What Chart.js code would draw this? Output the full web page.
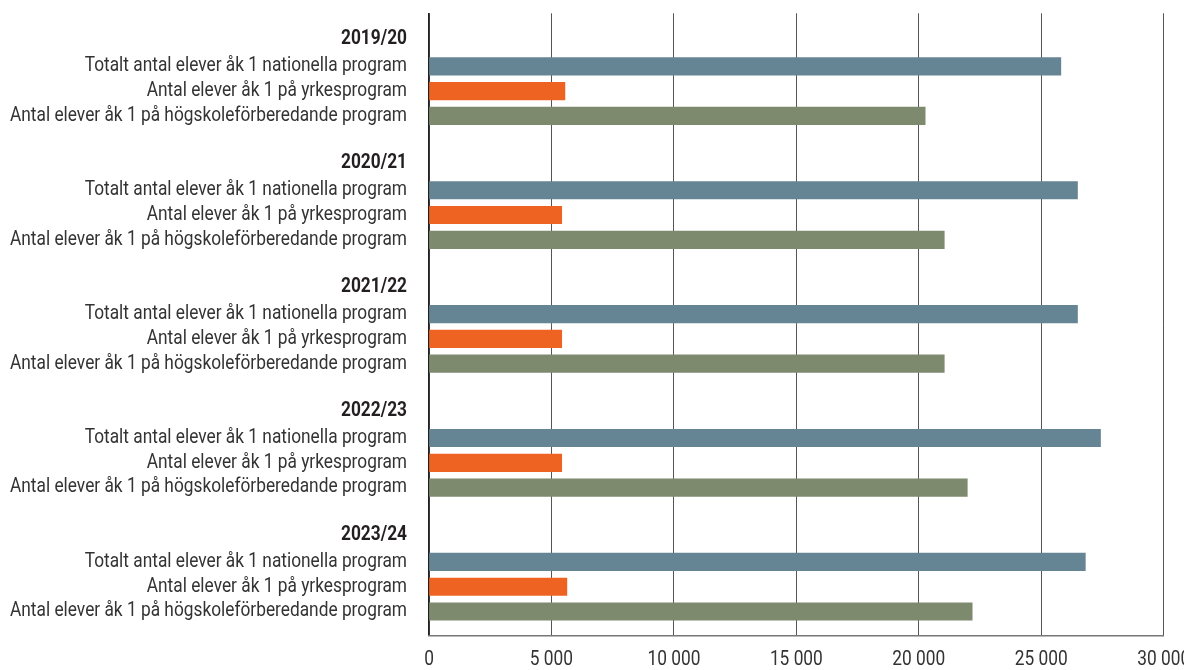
<!DOCTYPE html>
<html>
<head>
<meta charset="utf-8">
<script src="https://cdn.jsdelivr.net/npm/chart.js@4/dist/chart.umd.min.js"></script>
<style>
  html, body { margin: 0; padding: 0; background: #fff; overflow: hidden; }
  #wrap { position: relative; width: 1184px; height: 670px; }
</style>
</head>
<body>
<div id="wrap"><canvas id="c"></canvas></div>
<script>
// ---- data ----
const years = ["2019/20", "2020/21", "2021/22", "2022/23", "2023/24"];
const seriesNames = [
  "Totalt antal elever åk 1 nationella program",
  "Antal elever åk 1 på yrkesprogram",
  "Antal elever åk 1 på högskoleförberedande program"
];
const totalt = [25800, 26480, 26480, 27420, 26800];
const yrkes  = [5550, 5420, 5420, 5420, 5630];
const hogsk  = [20260, 21040, 21040, 21980, 22180];
const seriesColors = ["#658594", "#ee6322", "#7e8a6e"];
const xTicks = [0, 5000, 10000, 15000, 20000, 25000, 30000];

// ---- build rows (row index k: header, 3 bars, blank gap) ----
const rows = [];   // {k, label, header}
const points = []; // {x, y}
const colors = [];
years.forEach((yr, i) => {
  const base = i * 5 + 1;
  rows.push({ k: base, label: yr, header: true });
  [totalt, yrkes, hogsk].forEach((s, j) => {
    rows.push({ k: base + 1 + j, label: seriesNames[j], header: false });
    points.push({ x: s[i], y: base + 1 + j });
    colors.push(seriesColors[j]);
  });
});

const FONT = "Roboto, 'DejaVu Sans', sans-serif";
const FSIZE = 19.5;
const LONGEST_W = 397; // target pixel width of longest label
const fmt = v => String(v).replace(/\B(?=(\d{3})+(?!\d))/g, " ");

const condensedLabels = {
  id: "condensedLabels",
  afterDraw(chart) {
    const ctx = chart.ctx, ys = chart.scales.y, xs = chart.scales.x;
    ctx.save();
    ctx.font = `normal ${FSIZE}px ${FONT}`;
    let maxW = 0;
    rows.forEach(r => { if (!r.header) maxW = Math.max(maxW, ctx.measureText(r.label).width); });
    const sx = LONGEST_W / maxW;
    const right = chart.chartArea.left - 22;
    ctx.textAlign = "right";
    ctx.textBaseline = "middle";
    rows.forEach(r => {
      const y = ys.getPixelForValue(r.k) - (r.header ? 2.5 : 0);
      ctx.font = `${r.header ? "bold" : "normal"} ${FSIZE}px ${FONT}`;
      ctx.fillStyle = r.header ? "#231f20" : "#333333";
      ctx.save();
      ctx.translate(right, y);
      ctx.scale(sx, 1);
      ctx.fillText(r.label, 0, 0);
      ctx.restore();
    });
    ctx.textAlign = "center";
    ctx.font = `normal ${FSIZE}px ${FONT}`;
    ctx.fillStyle = "#333333";
    xTicks.forEach(v => {
      const x = xs.getPixelForValue(v);
      ctx.save();
      ctx.translate(x, 660);
      ctx.scale(sx, 1);
      ctx.fillText(fmt(v), 0, 0);
      ctx.restore();
    });
    ctx.restore();
  }
};

new Chart(document.getElementById("c"), {
  type: "bar",
  data: {
    datasets: [{
      data: points,
      backgroundColor: colors,
      borderWidth: 0,
      barThickness: 17.5
    }]
  },
  options: {
    indexAxis: "y",
    responsive: true,
    maintainAspectRatio: false,
    animation: false,
    layout: { padding: { left: 10, top: 13.3, right: 20.3, bottom: 0 } },
    plugins: { legend: { display: false }, tooltip: { enabled: false } },
    scales: {
      y: {
        type: "linear",
        reverse: true,
        min: -0.14, max: 24.96,
        offset: false,
        afterFit: s => { s.width = 419; },
        grid: { display: false, drawTicks: false },
        border: { display: true, color: "#231f20", width: 1.5 },
        ticks: { display: false }
      },
      x: {
        type: "linear",
        min: 0, max: 30000,
        afterBuildTicks: s => { s.ticks = xTicks.map(v => ({ value: v })); },
        afterFit: s => { s.height = 34.7; },
        grid: { color: "#555", lineWidth: 1, drawTicks: false },
        border: { display: true, color: "#777", width: 1.5 },
        ticks: { display: false }
      }
    }
  },
  plugins: [condensedLabels]
});
</script>
</body>
</html>
